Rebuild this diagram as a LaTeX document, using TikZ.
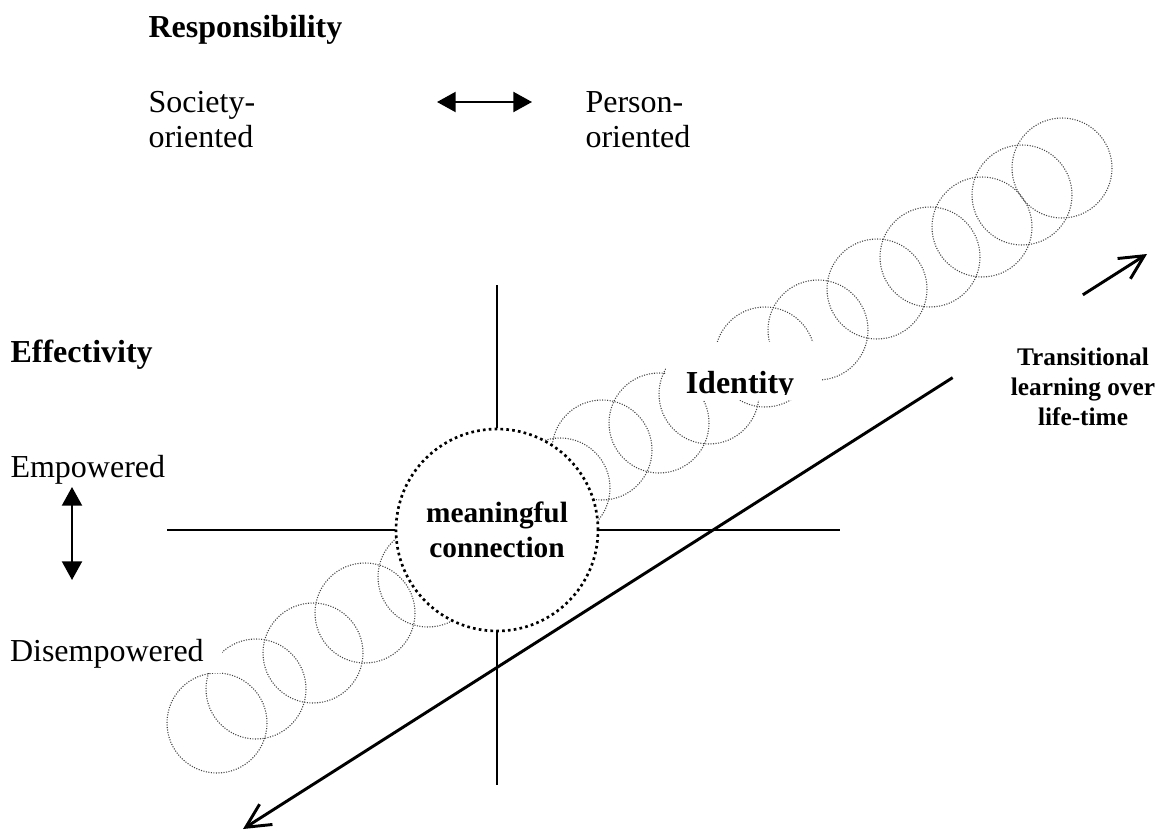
\documentclass[tikz,border=0pt]{standalone}
\usepackage{fontspec}
\setmainfont{Liberation Serif}
\usetikzlibrary{arrows.meta,calc}

\begin{document}
\begin{tikzpicture}[x=0.375pt, y=-0.375pt, every node/.style={inner sep=0pt, font=\fontsize{12}{13.1}\selectfont},
	>={Triangle[length=7pt, width=7.5pt]},
	axis/.style={line width=0.8pt},
	ring/.style={black!75, line width=0.4pt, dash pattern=on 0.4pt off 0.55pt},
	hub/.style={circle, draw, fill=white, minimum size=75.75pt, line width=1pt, dash pattern=on 1pt off 1.2pt, align=center, font=\bfseries\fontsize{11}{13.1}\selectfont},
	barb/.style={line width=1.1pt, -{Straight Barb[length=9pt, width=9pt]}},
	heading/.style={font=\bfseries\fontsize{12}{13.1}\selectfont}]
	\useasboundingbox (0,0) rectangle (1159,831);
	\foreach \cx/\cy in {217/723, 256/689, 313/653, 365/613, 428/577, 560/488, 602/450, 659/423, 709/394, 765/357, 818/330, 877/289, 930/257, 982/227, 1022/195, 1062/168}
		\draw[ring] (\cx,\cy) circle (50);
	\node[anchor=text, fill=white, inner xsep=7pt, inner ysep=2pt] (disemp) at (10,661) {Disempowered};
	\fill[white] (666,342) rectangle (822,400);
	\begin{scope}
		\clip (666,342) rectangle (822,394.5);
		\node[heading, anchor=base] (ident) at (740,393) {Identity};
	\end{scope}
	\node[hub] (mc) at (497,530) {meaningful\\connection};
	\coordinate (ax-n) at (497,285);
	\coordinate (ax-s) at (497,785);
	\coordinate (ax-w) at (167,530);
	\coordinate (ax-e) at (840,530);
	\draw[axis] (mc.north) -- (ax-n);
	\draw[axis] (mc.south) -- (ax-s);
	\draw[axis] (mc.west) -- (ax-w);
	\draw[axis] (mc.east) -- (ax-e);
	\coordinate (life-start) at (243,829);
	\coordinate (life-end) at (1147,254);
	\coordinate (gap-lo) at ($(life-start)!0.785!(life-end)$);
	\coordinate (gap-hi) at ($(life-start)!0.929!(life-end)$);
	\draw[barb] (gap-lo) -- (life-start);
	\draw[barb] (gap-hi) -- (life-end);
	\node[font=\bfseries\fontsize{9.5}{11.3}\selectfont, align=center] (trans) at (1083,387) {Transitional\\learning over\\life-time};
	\node[heading, anchor=base west] (resp) at (148,38) {Responsibility};
	\node[anchor=north west, align=left] (society) at (148,91) {Society-\\oriented};
	\node[anchor=north west, align=left] (person) at (585,91) {Person-\\oriented};
	\coordinate (resp-l) at (437,102);
	\coordinate (resp-r) at (532,102);
	\draw[axis, <->] (resp-l) -- (resp-r);
	\node[heading, anchor=base west] (effect) at (10,362) {Effectivity};
	\node[anchor=base west] (emp) at (10,477) {Empowered};
	\coordinate (eff-t) at (72,487);
	\coordinate (eff-b) at (72,580);
	\draw[axis, <->] (eff-t) -- (eff-b);
\end{tikzpicture}
\end{document}
